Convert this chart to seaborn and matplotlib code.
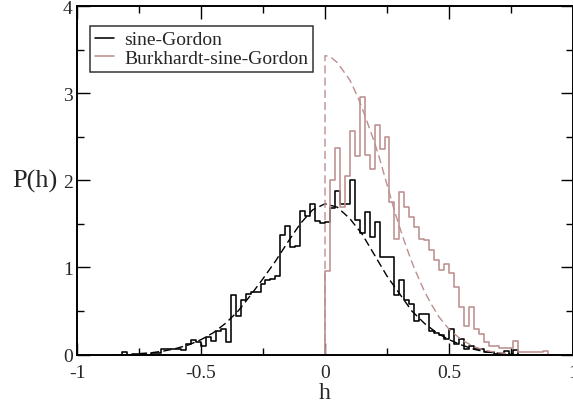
import numpy as np
import pandas as pd
import seaborn as sns
import matplotlib
matplotlib.use("Agg")
import matplotlib.pyplot as plt
from matplotlib import ticker
from matplotlib.lines import Line2D

# ---- histogram data (bin width 0.02) ----
bin_width = 0.02

# sine-Gordon: first bin starts at h = -0.84
sg_start = -0.84
sg_heights = [
    0.00, 0.025, 0.00, 0.01, 0.01, 0.01, 0.00, 0.02, 0.02, 0.06,
    0.06, 0.06, 0.06, 0.05, 0.12, 0.17, 0.14, 0.10, 0.20, 0.16,
    0.27, 0.29, 0.14, 0.68, 0.44, 0.62, 0.70, 0.72, 0.72, 0.81,
    0.85, 0.87, 0.90, 1.37, 1.47, 1.23, 1.25, 1.65, 1.59, 1.73,
    1.53, 1.51,
    1.52, 1.68, 1.88, 1.73, 1.73, 2.00, 1.54, 1.40, 1.63, 1.35,
    1.52, 1.12, 1.12, 1.12, 0.68, 0.85, 0.62, 0.58, 0.38, 0.47,
    0.47, 0.27, 0.25, 0.22, 0.18, 0.29, 0.12, 0.18, 0.06, 0.10,
    0.06, 0.06, 0.03, 0.03, 0.01, 0.01, 0.04, 0.01, 0.05, 0.00,
]

# Burkhardt-sine-Gordon: first bin starts at h = -0.02
bsg_start = -0.02
bsg_heights = [
    0.00, 0.96, 2.00, 2.37, 1.69, 2.05, 2.57, 2.28, 2.95, 2.29,
    2.13, 2.63, 2.36, 2.50, 1.75, 1.33, 1.86, 1.69, 1.58, 1.46,
    1.33, 1.31, 1.20, 1.08, 0.97, 1.04, 0.93, 0.77, 0.55, 0.33,
    0.55, 0.29, 0.23, 0.14, 0.10, 0.10, 0.08, 0.08, 0.08, 0.15,
    0.03, 0.03, 0.03, 0.03, 0.03, 0.04, 0.00,
]

# ---- reference curves (dashed) ----
sg_curve_h = [-0.75, -0.70, -0.65, -0.60, -0.55, -0.50, -0.45, -0.40, -0.35,
              -0.30, -0.25, -0.20, -0.15, -0.10, -0.05, 0.00, 0.05, 0.10,
              0.15, 0.20, 0.25, 0.30, 0.35, 0.40, 0.45, 0.50, 0.55, 0.60,
              0.65, 0.70, 0.75]
sg_curve_p = [0.01, 0.02, 0.04, 0.07, 0.11, 0.17, 0.25, 0.36, 0.50,
              0.68, 0.87, 1.07, 1.29, 1.50, 1.66, 1.73, 1.69, 1.56,
              1.38, 1.14, 0.90, 0.70, 0.50, 0.36, 0.25, 0.17, 0.11, 0.06,
              0.03, 0.015, 0.005]

bsg_curve_h = [0.0, 0.0, 0.02, 0.05, 0.08, 0.10, 0.12, 0.14, 0.16, 0.18,
               0.20, 0.22, 0.24, 0.26, 0.28, 0.30, 0.32, 0.34, 0.36, 0.38,
               0.40, 0.43, 0.46, 0.50, 0.55, 0.60, 0.65, 0.70, 0.75]
bsg_curve_p = [0.0, 3.43, 3.42, 3.35, 3.23, 3.15, 3.03, 2.90, 2.75, 2.59,
               2.43, 2.25, 2.05, 1.85, 1.65, 1.47, 1.30, 1.14, 0.99, 0.86,
               0.73, 0.57, 0.43, 0.29, 0.17, 0.09, 0.045, 0.02, 0.008]

ROSE = "#bc8f8f"

sns.set_style("ticks")
plt.rcParams["font.family"] = ["Liberation Serif", "DejaVu Serif"]
plt.rcParams["axes.unicode_minus"] = False

fig = plt.figure(figsize=(5.73, 4.06), dpi=100)
ax = fig.add_axes([77 / 573, 50.5 / 406, 496 / 573, 348.5 / 406])


def hist_frame(start, heights):
    n = len(heights)
    centers = start + bin_width * (np.arange(n) + 0.5)
    return pd.DataFrame({"h": centers, "w": heights}), (start, start + n * bin_width)


sg_df, sg_range = hist_frame(sg_start, sg_heights)
bsg_df, bsg_range = hist_frame(bsg_start, bsg_heights)

sns.histplot(data=sg_df, x="h", weights="w", binwidth=bin_width,
             binrange=sg_range, element="step", fill=False, color="black",
             linewidth=1.15, ax=ax)
sns.histplot(data=bsg_df, x="h", weights="w", binwidth=bin_width,
             binrange=bsg_range, element="step", fill=False, color=ROSE,
             linewidth=1.15, ax=ax)

sns.lineplot(x=sg_curve_h, y=sg_curve_p, sort=False, estimator=None,
             color="black", linewidth=1.0, ax=ax)
sns.lineplot(x=bsg_curve_h, y=bsg_curve_p, sort=False, estimator=None,
             color=ROSE, linewidth=1.0, ax=ax)
for ln in ax.lines[-2:]:
    ln.set_dashes((5.8, 3.0))

ax.set_xlim(-1, 1)
ax.set_ylim(0, 4)

ax.xaxis.set_major_locator(ticker.MultipleLocator(0.5))
ax.xaxis.set_minor_locator(ticker.MultipleLocator(0.25))
ax.yaxis.set_major_locator(ticker.MultipleLocator(1))
ax.yaxis.set_minor_locator(ticker.MultipleLocator(0.5))
ax.xaxis.set_major_formatter(ticker.FuncFormatter(lambda v, p: f"{v:g}"))
ax.yaxis.set_major_formatter(ticker.FuncFormatter(lambda v, p: f"{v:g}"))
ax.tick_params(which="both", direction="in", top=True, right=True,
               labelsize=14, color="black", width=1.0)
ax.tick_params(which="major", length=9)
ax.tick_params(which="minor", length=5)
ax.tick_params(axis="x", which="major", pad=6.5)
ax.tick_params(axis="y", which="major", pad=3)
for s in ax.spines.values():
    s.set_linewidth(1.4)
    s.set_color("black")
    s.set_visible(True)

ax.set_xlabel("h", fontsize=17, labelpad=1)
ax.set_ylabel("P(h)", fontsize=19, rotation=0, ha="right", va="center")
ax.yaxis.set_label_coords(-0.040, 0.498)

handles = [Line2D([], [], color="black", lw=1.15),
           Line2D([], [], color=ROSE, lw=1.15)]
leg = ax.legend(handles, ["sine-Gordon", "Burkhardt-sine-Gordon"],
                loc="upper left", bbox_to_anchor=(0.026, 0.943),
                borderaxespad=0, frameon=True, fancybox=False,
                fontsize=14, handlelength=1.0, handletextpad=0.5,
                labelspacing=0.05, borderpad=0.25)
leg.get_frame().set_edgecolor("black")
leg.get_frame().set_linewidth(1.1)

fig.savefig("out.png", dpi=100, facecolor="white")
